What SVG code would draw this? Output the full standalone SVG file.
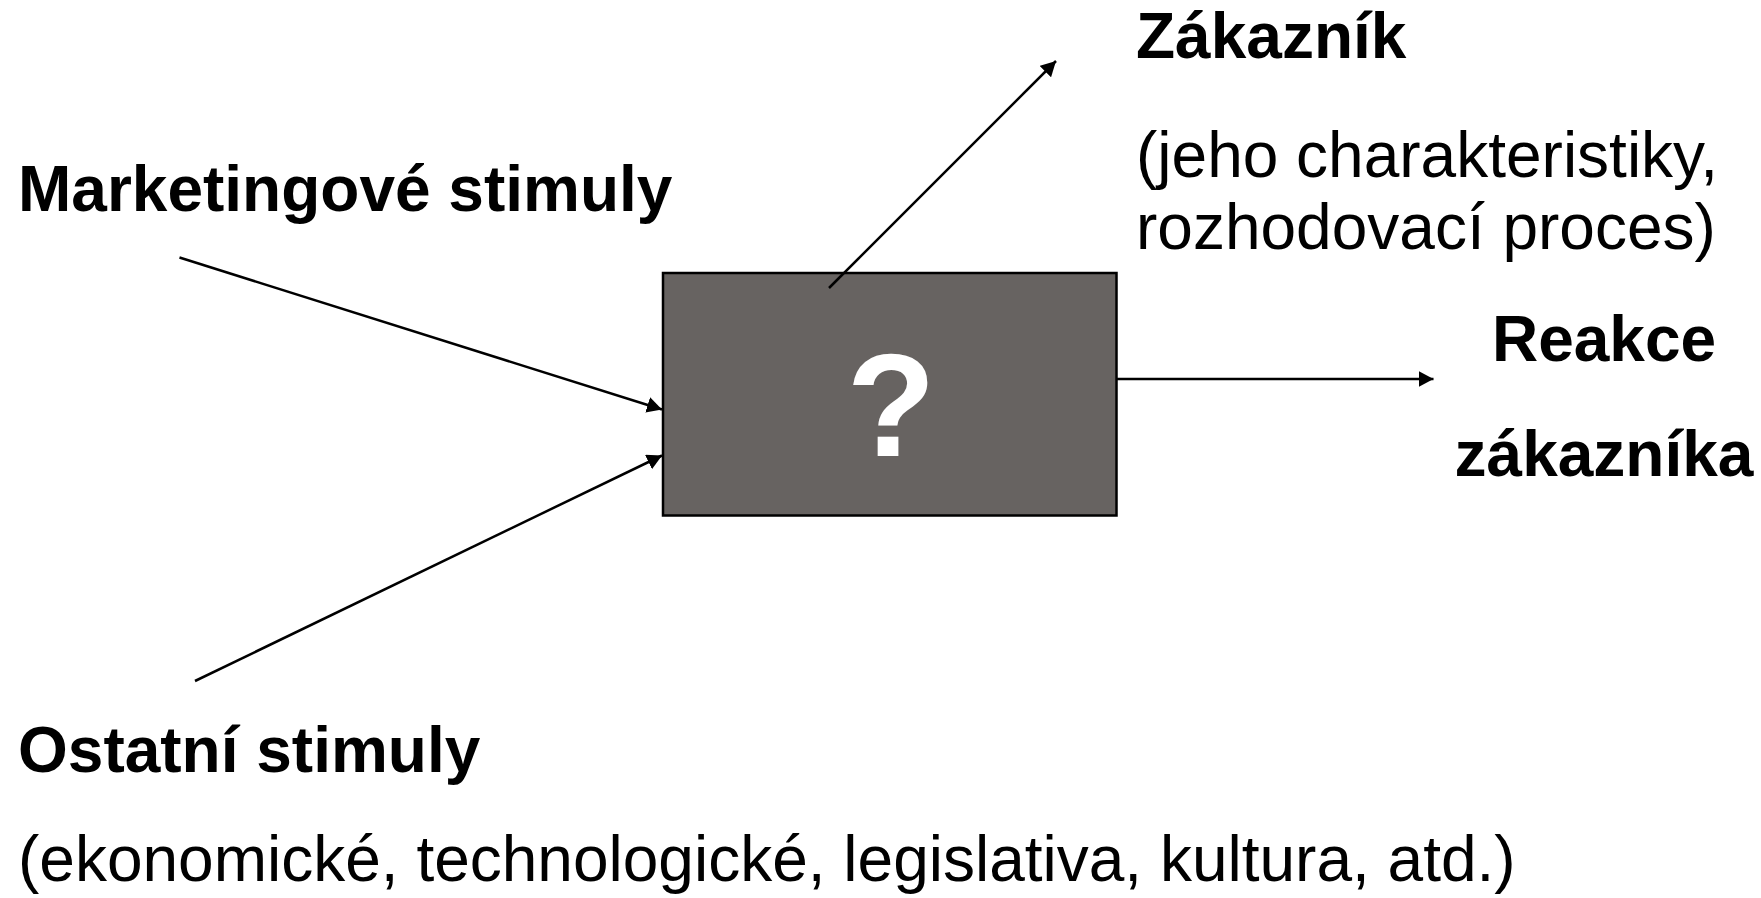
<svg xmlns="http://www.w3.org/2000/svg" width="1761" height="898" viewBox="0 0 1761 898">
  <style>
    .bold { font-family: "Liberation Sans", Arial, sans-serif; font-weight: bold; font-size: 64px; fill: #000; }
    .reg { font-family: "Liberation Sans", Arial, sans-serif; font-size: 64px; fill: #000; }
    .conn { stroke: #000; stroke-width: 2.5; fill: none; marker-end: url(#arrow); }
  </style>
  <defs>
    <marker id="arrow" markerUnits="userSpaceOnUse" markerWidth="16" markerHeight="16" refX="15" refY="8" orient="auto">
      <path d="M0,0 L15,8 L0,16 Z" fill="#000"/>
    </marker>
  </defs>
  <rect width="1761" height="898" fill="#fff"/>

  <g id="blackbox">
    <rect x="663" y="273" width="453.5" height="242.5" fill="#676361" stroke="#000" stroke-width="2.5"/>
    <text x="891" y="456" text-anchor="middle" font-family="Liberation Sans, Arial, sans-serif" font-weight="bold" font-size="146" fill="#fff">?</text>
  </g>

  <g id="connectors">
    <line class="conn" x1="179.5" y1="257.5" x2="662" y2="409.5"/>
    <line class="conn" x1="195" y1="681" x2="662" y2="455.5"/>
    <line class="conn" x1="829" y1="288" x2="1056" y2="61"/>
    <line class="conn" x1="1117" y1="379" x2="1433.5" y2="379"/>
  </g>

  <g id="marketing">
    <text class="bold" x="18" y="211">Marketingové stimuly</text>
  </g>
  <g id="ostatni">
    <text class="bold" x="18" y="772">Ostatní stimuly</text>
    <text class="reg" x="18" y="881">(ekonomické, technologické, legislativa, kultura, atd.)</text>
  </g>
  <g id="zakaznik">
    <text class="bold" x="1136" y="58">Zákazník</text>
    <text class="reg" x="1136" y="177">(jeho charakteristiky,</text>
    <text class="reg" x="1136" y="249">rozhodovací proces)</text>
  </g>
  <g id="reakce">
    <text class="bold" x="1604" y="361" text-anchor="middle">Reakce</text>
    <text class="bold" x="1604" y="476" text-anchor="middle">zákazníka</text>
  </g>
</svg>
